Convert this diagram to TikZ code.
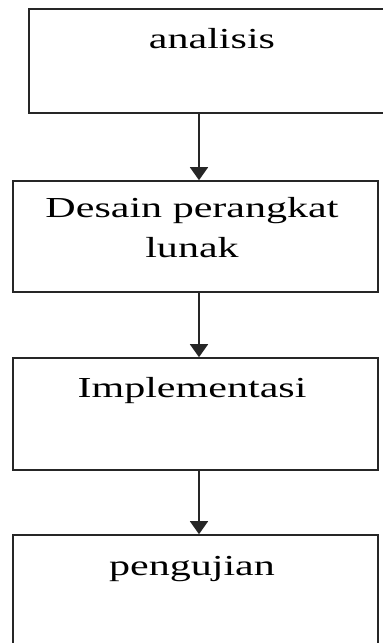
\documentclass[tikz,border=0pt]{standalone}
\usepackage{fontspec}
\setmainfont{Liberation Serif}
\usetikzlibrary{arrows.meta, positioning}
\newcommand{\wide}[1]{\scalebox{1.45}[1]{#1}}

\begin{document}
\begin{tikzpicture}[x=1pt,y=-1pt,>={Triangle[width=18pt,length=13pt]},
  stagebox/.style={draw=black!85,line width=1.6pt,rectangle,inner sep=0pt,minimum width=365pt},
  stagetext/.style={anchor=base,align=center,inner sep=0pt,font=\fontsize{29}{40}\selectfont}]
  \useasboundingbox (0,0) rectangle (383,643);
  \clip (0,0) rectangle (383,643);
  % boxes
  \node[stagebox,minimum width=366pt,minimum height=104pt] (analisis) at (212,61) {};
  \node[stagebox,minimum height=111pt] (desain) at (195.5,236.5) {};
  \node[stagebox,minimum height=112pt] (implementasi) at (195.5,414) {};
  \node[stagebox,minimum height=120pt] (pengujian) at (195.5,595) {};
  % labels
  \node[stagetext] (tanalisis) at (212,48) {\wide{analisis}};
  \node[stagetext] (tdesain) at (192,257) {\wide{Desain perangkat}\\ \wide{lunak}};
  \node[stagetext] (timplementasi) at (192,397) {\wide{Implementasi}};
  \node[stagetext] (tpengujian) at (192,575) {\wide{pengujian}};
  % arrows
  \coordinate (ax) at (199,0);
  \draw[->,line width=1.6pt,black!85] (analisis.south -| ax) -- (desain.north -| ax);
  \draw[->,line width=1.6pt,black!85] (desain.south -| ax) -- (implementasi.north -| ax);
  \draw[->,line width=1.6pt,black!85] (implementasi.south -| ax) -- (pengujian.north -| ax);
\end{tikzpicture}
\end{document}
